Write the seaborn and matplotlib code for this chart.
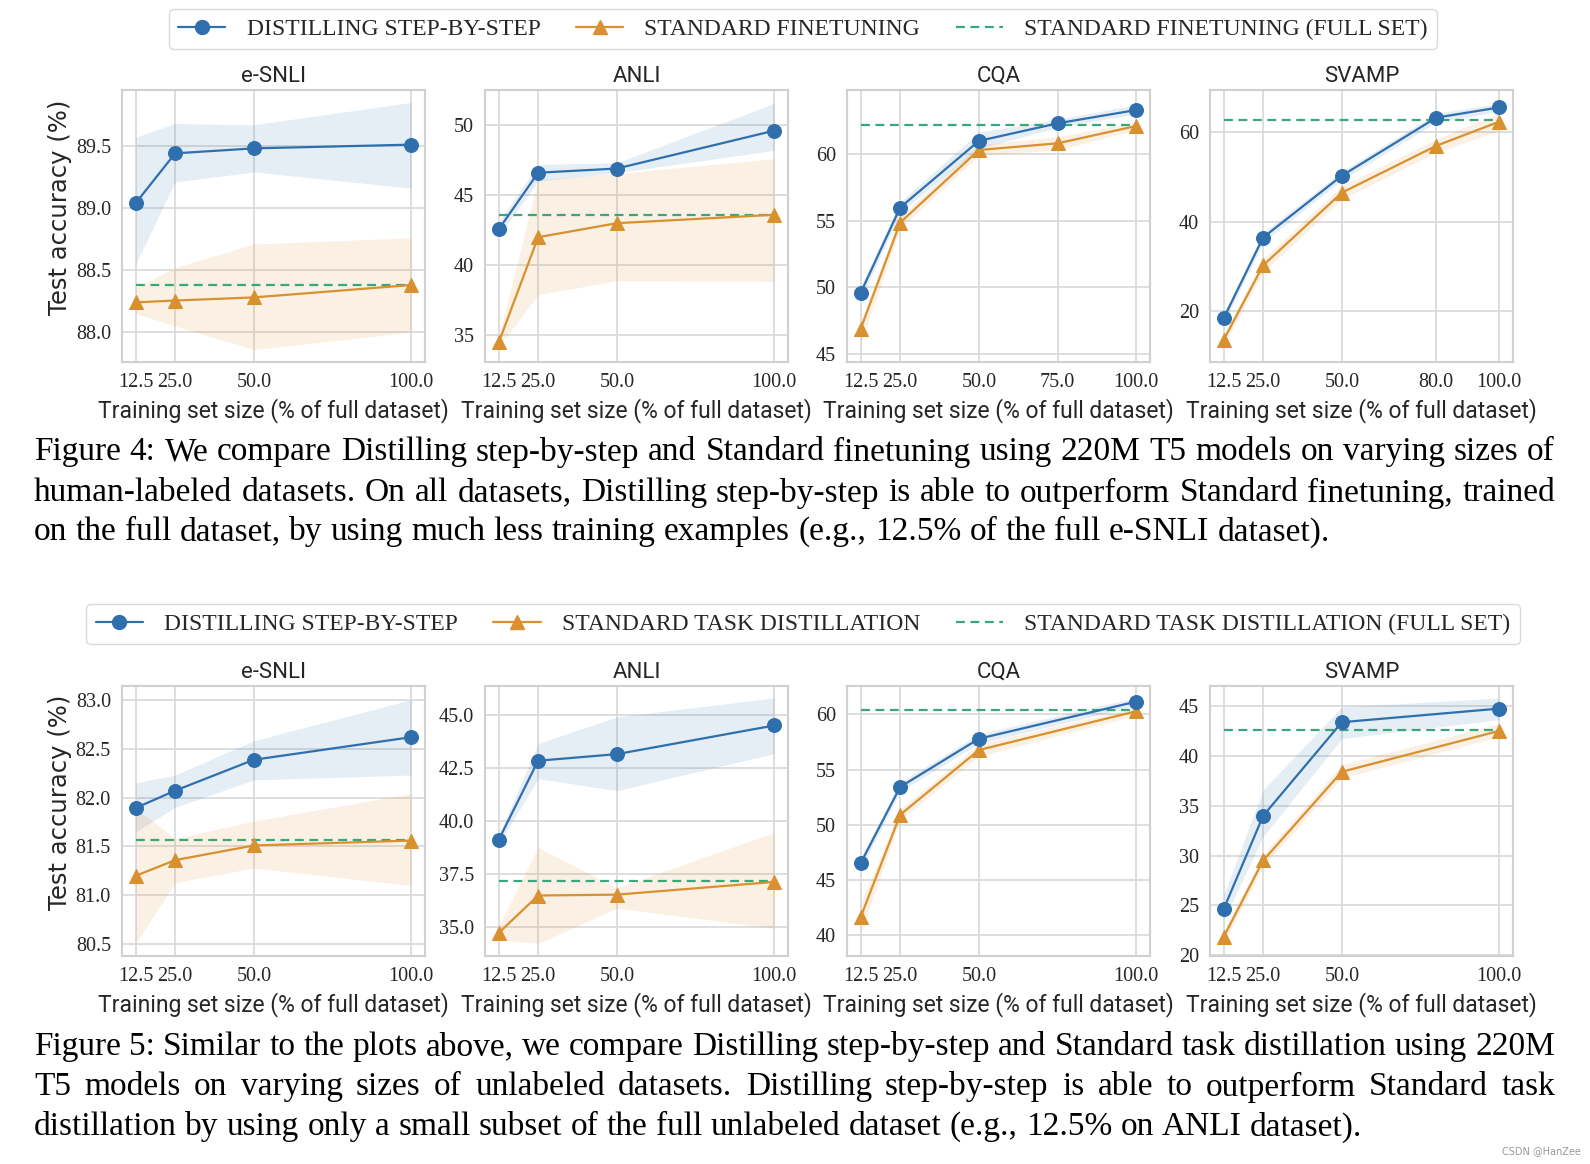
import matplotlib
matplotlib.use('Agg')
import matplotlib.pyplot as plt
from matplotlib.lines import Line2D
import seaborn as sns

# ---- data ----
sizes4 = [12.5, 25.0, 50.0, 100.0]
sizes_cqa4 = [12.5, 25.0, 50.0, 75.0, 100.0]
sizes_svamp4 = [12.5, 25.0, 50.0, 80.0, 100.0]
sizes5 = [12.5, 25.0, 50.0, 100.0]

# Figure 4: Distilling step-by-step vs Standard finetuning
esnli4_dss = [89.04, 89.44, 89.48, 89.51]
esnli4_dss_lo = [88.55, 89.21, 89.29, 89.16]
esnli4_dss_hi = [89.57, 89.68, 89.67, 89.85]
esnli4_std = [88.24, 88.255, 88.28, 88.38]
esnli4_std_lo = [88.15, 88.05, 87.86, 88.00]
esnli4_std_hi = [88.36, 88.52, 88.71, 88.76]
esnli4_full = 88.38

anli4_dss = [42.57, 46.6, 46.9, 49.6]
anli4_dss_lo = [42.1, 46.0, 46.6, 48.2]
anli4_dss_hi = [43.1, 47.2, 47.3, 51.55]
anli4_std = [34.5, 42.0, 43.0, 43.6]
anli4_std_lo = [34.2, 37.9, 38.9, 38.85]
anli4_std_hi = [34.9, 46.1, 46.55, 47.6]
anli4_full = 43.6

cqa4_dss = [49.6, 55.98, 60.98, 62.3, 63.3]
cqa4_dss_lo = [49.1, 55.6, 60.4, 62.0, 63.0]
cqa4_dss_hi = [50.1, 56.4, 61.65, 62.6, 63.7]
cqa4_std = [46.9, 54.85, 60.3, 60.8, 62.1]
cqa4_std_lo = [45.8, 54.4, 59.9, 60.3, 61.8]
cqa4_std_hi = [47.5, 55.3, 60.7, 61.3, 62.4]
cqa4_full = 62.2

svamp4_dss = [18.4, 36.45, 50.3, 63.3, 65.6]
svamp4_dss_lo = [17.2, 35.4, 49.3, 62.3, 64.7]
svamp4_dss_hi = [19.6, 37.5, 51.3, 64.3, 66.5]
svamp4_std = [13.57, 30.2, 46.5, 57.0, 62.4]
svamp4_std_lo = [12.3, 28.7, 45.0, 55.5, 60.4]
svamp4_std_hi = [14.8, 31.7, 48.0, 58.5, 64.4]
svamp4_full = 62.8

# Figure 5: Distilling step-by-step vs Standard task distillation
esnli5_dss = [81.894, 82.07, 82.386, 82.617]
esnli5_dss_lo = [81.65, 81.90, 82.18, 82.23]
esnli5_dss_hi = [82.15, 82.23, 82.58, 83.00]
esnli5_std = [81.20, 81.36, 81.51, 81.56]
esnli5_std_lo = [80.51, 81.13, 81.28, 81.10]
esnli5_std_hi = [81.89, 81.58, 81.76, 82.04]
esnli5_full = 81.57

anli5_dss = [39.12, 42.84, 43.15, 44.5]
anli5_dss_lo = [38.9, 42.0, 41.43, 43.18]
anli5_dss_hi = [39.35, 43.65, 44.9, 45.8]
anli5_std = [34.73, 36.49, 36.53, 37.13]
anli5_std_lo = [34.4, 34.23, 35.9, 34.94]
anli5_std_hi = [35.05, 38.76, 36.85, 39.46]
anli5_full = 37.16

cqa5_dss = [46.55, 53.42, 57.78, 61.14]
cqa5_dss_lo = [46.0, 53.0, 57.35, 60.75]
cqa5_dss_hi = [47.1, 53.85, 58.2, 61.5]
cqa5_std = [41.68, 50.9, 56.76, 60.27]
cqa5_std_lo = [40.2, 50.4, 56.2, 59.9]
cqa5_std_hi = [42.9, 51.4, 57.3, 60.6]
cqa5_full = 60.36

svamp5_dss = [24.64, 33.99, 43.4, 44.77]
svamp5_dss_lo = [23.57, 31.9, 41.76, 43.66]
svamp5_dss_hi = [26.07, 36.6, 44.93, 45.83]
svamp5_std = [21.84, 29.5, 38.42, 42.53]
svamp5_std_lo = [21.2, 28.9, 37.8, 41.93]
svamp5_std_hi = [22.45, 30.1, 39.1, 43.27]
svamp5_full = 42.63

titles = ['e-SNLI', 'ANLI', 'CQA', 'SVAMP']

caption4 = [
    'Figure 4: We compare Distilling step-by-step and Standard finetuning using 220M T5 models on varying sizes of',
    'human-labeled datasets.  On all datasets, Distilling step-by-step is able to outperform Standard finetuning, trained',
    'on the full dataset, by using much less training examples (e.g., 12.5% of the full e-SNLI dataset).',
]
caption5 = [
    'Figure 5: Similar to the plots above, we compare Distilling step-by-step and Standard task distillation using 220M',
    'T5 models on varying sizes of unlabeled datasets.  Distilling step-by-step is able to outperform Standard task',
    'distillation by using only a small subset of the full unlabeled dataset (e.g., 12.5% on ANLI dataset).',
]

# ---- style ----
W, H = 1590, 1164
BLUE = '#2f6fae'
ORANGE = '#d9902f'
GREEN = '#3aa67a'

sns.set_theme(style='whitegrid')
plt.rcParams['font.family'] = ['Liberation Serif', 'DejaVu Serif']
plt.rcParams['axes.edgecolor'] = '#d0d0d0'
plt.rcParams['axes.linewidth'] = 1.5
plt.rcParams['grid.color'] = '#d8d8d8'
plt.rcParams['grid.linewidth'] = 1.2

fig = plt.figure(figsize=(W / 100, H / 100), dpi=100)


def rect(x0, y0, x1, y1):
    return [x0 / W, 1 - y1 / H, (x1 - x0) / W, (y1 - y0) / H]


lefts = [122, 485, 847, 1210]
ax_w = 303


def panel(ax, sizes, dss, dss_lo, dss_hi, std, std_lo, std_hi, full,
          ylim, yticks, fmt, title, first):
    ax.fill_between(sizes, dss_lo, dss_hi, color=BLUE, alpha=0.12, linewidth=0)
    ax.fill_between(sizes, std_lo, std_hi, color=ORANGE, alpha=0.13, linewidth=0)
    sns.lineplot(x=sizes, y=[full] * len(sizes), ax=ax, color=GREEN,
                 linestyle=(0, (4, 2.5)), linewidth=1.6)
    sns.lineplot(x=sizes, y=std, ax=ax, color=ORANGE, marker='^',
                 markersize=10, markeredgecolor=ORANGE, linewidth=1.6)
    sns.lineplot(x=sizes, y=dss, ax=ax, color=BLUE, marker='o',
                 markersize=10, markeredgecolor=BLUE, linewidth=1.6)
    ax.set_xticks(sizes)
    ax.set_xticklabels([f'{s:.1f}' for s in sizes])
    ax.set_yticks(yticks)
    ax.set_yticklabels([fmt.format(t) for t in yticks])
    ax.set_ylim(ylim)
    ax.tick_params(labelsize=14.5, pad=8, length=0)
    ax.set_title(title, family='Roboto', fontsize=16, pad=6)
    ax.set_xlabel('Training set size (% of full dataset)', family='Roboto',
                  fontsize=16.5, labelpad=4)
    if first:
        ax.set_ylabel('Test accuracy (%)', family='DejaVu Sans', fontsize=17.5)
        ax.yaxis.set_label_coords(-0.165, 0.57)
    else:
        ax.set_ylabel('')


row4 = [
    (sizes4, esnli4_dss, esnli4_dss_lo, esnli4_dss_hi, esnli4_std, esnli4_std_lo,
     esnli4_std_hi, esnli4_full, (87.76, 89.95), [88.0, 88.5, 89.0, 89.5], '{:.1f}'),
    (sizes4, anli4_dss, anli4_dss_lo, anli4_dss_hi, anli4_std, anli4_std_lo,
     anli4_std_hi, anli4_full, (33.1, 52.5), [35, 40, 45, 50], '{:d}'),
    (sizes_cqa4, cqa4_dss, cqa4_dss_lo, cqa4_dss_hi, cqa4_std, cqa4_std_lo,
     cqa4_std_hi, cqa4_full, (44.4, 64.8), [45, 50, 55, 60], '{:d}'),
    (sizes_svamp4, svamp4_dss, svamp4_dss_lo, svamp4_dss_hi, svamp4_std, svamp4_std_lo,
     svamp4_std_hi, svamp4_full, (8.56, 69.5), [20, 40, 60], '{:d}'),
]
row5 = [
    (sizes5, esnli5_dss, esnli5_dss_lo, esnli5_dss_hi, esnli5_std, esnli5_std_lo,
     esnli5_std_hi, esnli5_full, (80.38, 83.14), [80.5, 81.0, 81.5, 82.0, 82.5, 83.0], '{:.1f}'),
    (sizes5, anli5_dss, anli5_dss_lo, anli5_dss_hi, anli5_std, anli5_std_lo,
     anli5_std_hi, anli5_full, (33.64, 46.36), [35.0, 37.5, 40.0, 42.5, 45.0], '{:.1f}'),
    (sizes5, cqa5_dss, cqa5_dss_lo, cqa5_dss_hi, cqa5_std, cqa5_std_lo,
     cqa5_std_hi, cqa5_full, (38.14, 62.55), [40, 45, 50, 55, 60], '{:d}'),
    (sizes5, svamp5_dss, svamp5_dss_lo, svamp5_dss_hi, svamp5_std, svamp5_std_lo,
     svamp5_std_hi, svamp5_full, (19.9, 47.04), [20, 25, 30, 35, 40, 45], '{:d}'),
]

for top, bottom, row in [(90, 362, row4), (686, 956, row5)]:
    for i, args in enumerate(row):
        ax = fig.add_axes(rect(lefts[i], top, lefts[i] + ax_w, bottom))
        panel(ax, *args, title=titles[i], first=(i == 0))


def legend(labels, y):
    handles = [
        Line2D([], [], color=BLUE, marker='o', markersize=10, linewidth=1.6),
        Line2D([], [], color=ORANGE, marker='^', markersize=10, linewidth=1.6),
        Line2D([], [], color=GREEN, linestyle=(0, (4, 2.5)), linewidth=1.6),
    ]
    fig.legend(handles, labels, loc='center', bbox_to_anchor=(0.505, 1 - y / H),
               ncol=3, frameon=True, prop={'family': 'Liberation Serif', 'size': 17},
               handlelength=2.0, handletextpad=0.9, columnspacing=1.5,
               borderpad=0.4, edgecolor='#d0d0d0')


legend(['DISTILLING STEP-BY-STEP', 'STANDARD FINETUNING',
        'STANDARD FINETUNING (FULL SET)'], 29)
legend(['DISTILLING STEP-BY-STEP', 'STANDARD TASK DISTILLATION',
        'STANDARD TASK DISTILLATION (FULL SET)'], 624)

# captions, justified like the paper
renderer = fig.canvas.get_renderer()


def caption(lines, ys, size=24, x0=34, x1=1555):
    for i, (line, yc) in enumerate(zip(lines, ys)):
        words = line.split()
        ts = [fig.text(0, 1 - yc / H, w, fontsize=size, family='Liberation Serif',
                       va='center', color='black') for w in words]
        ws = [t.get_window_extent(renderer).width for t in ts]
        if i == len(lines) - 1:
            gap = 0.25 * size * 100 / 72
        else:
            gap = (x1 - x0 - sum(ws)) / (len(ws) - 1)
        x = x0
        for t, w in zip(ts, ws):
            t.set_x(x / W)
            x += w + gap


caption(caption4, [452, 493, 532])
caption(caption5, [1047, 1087, 1127])

fig.text(1541 / W, 1 - 1151 / H, 'CSDN @HanZee', fontsize=7, color='#9a9a9a',
         ha='center', va='center', family='DejaVu Sans')

fig.savefig('out.png', dpi=100)
